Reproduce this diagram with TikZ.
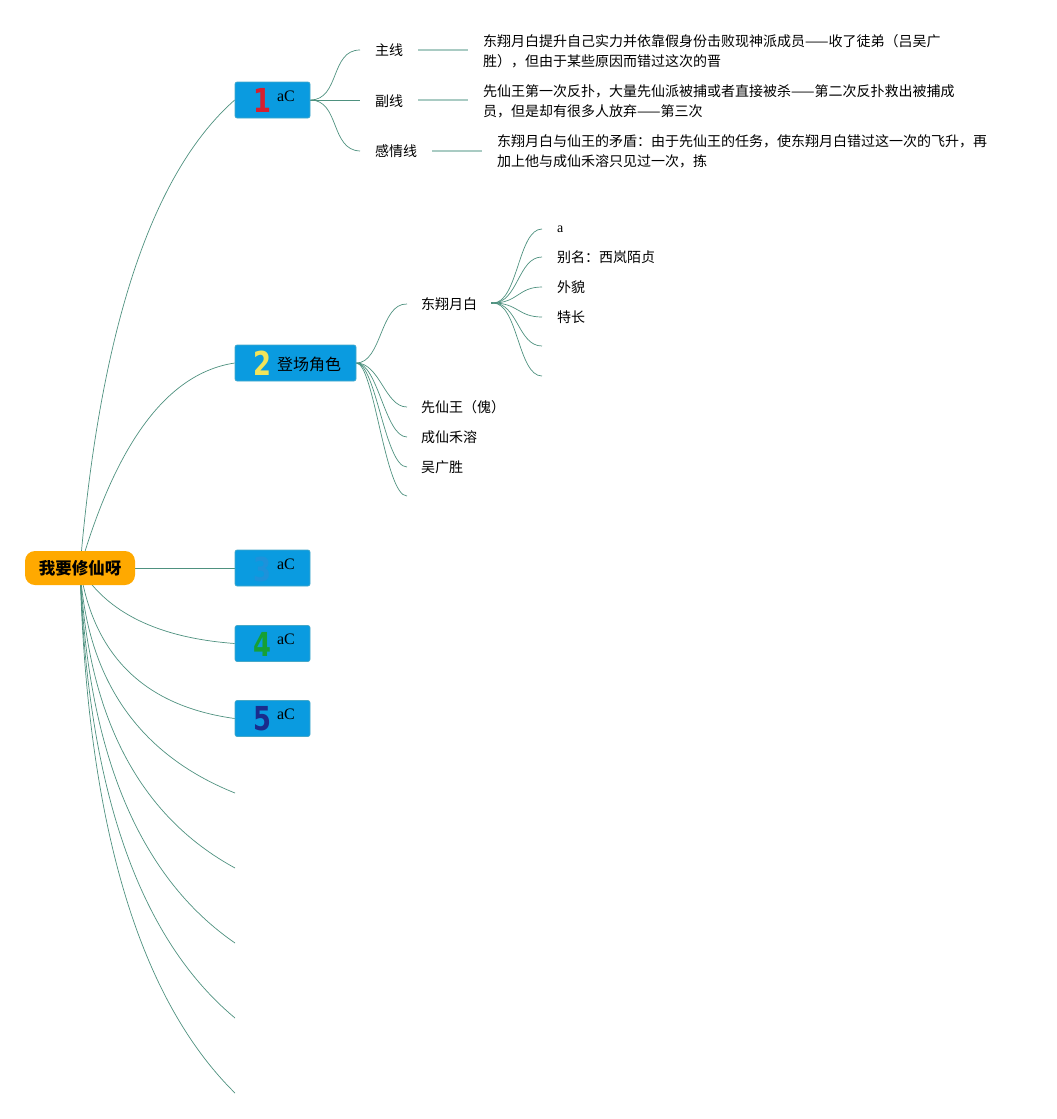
\documentclass[tikz,border=0pt]{standalone}
\usepackage{fontspec}
\setmainfont{Liberation Serif}
\newfontfamily\cjk{Noto Sans CJK SC}
\newfontfamily\numfont{DejaVu Sans}
\usetikzlibrary{calc,backgrounds}
\definecolor{linkc}{HTML}{4E917F}
\definecolor{lightlink}{HTML}{A9CBC3}
\definecolor{boxblue}{HTML}{0A9BE0}
\definecolor{boxedge}{HTML}{45A8C8}
\definecolor{rootor}{HTML}{FFA900}
\definecolor{numred}{HTML}{D61F2E}
\definecolor{numyel}{HTML}{F2E45A}
\definecolor{numhid}{HTML}{1E92DA}
\definecolor{numgrn}{HTML}{16A035}
\definecolor{numdk}{HTML}{1A2C8C}
\begin{document}
\begin{tikzpicture}[x=1pt,y=-1pt,
  link/.style={draw=linkc, line width=0.7pt},
  flat/.style={draw=lightlink, line width=1.4pt},
  bluebox/.style={draw=boxedge, line width=0.6pt, fill=boxblue, rounded corners=2pt, minimum height=36pt, inner sep=0pt},
  rootbox/.style={fill=rootor, rounded corners=10pt, minimum width=110pt, minimum height=34pt, inner sep=0pt, font=\cjk\bfseries\fontsize{16.5}{18}\selectfont},
  numtxt/.style={inner sep=0pt, xscale=0.78, font=\numfont\bfseries\fontsize{33}{33}\selectfont},
  actxt/.style={inner sep=0pt, font=\fontsize{16}{18}\selectfont},
  lab/.style={inner xsep=15pt, inner ysep=0pt, anchor=west, font=\cjk\fontsize{14}{16}\selectfont},
  lab2/.style={inner xsep=14pt, inner ysep=0pt, anchor=west, font=\cjk\fontsize{14}{16}\selectfont},
  para/.style={inner xsep=15pt, inner ysep=0pt, anchor=west, align=left, font=\cjk\fontsize{14}{20}\selectfont}
]
\useasboundingbox (0,0) rectangle (1057,1119);

% root
\node[rootbox] (root) at (80,568) {我要修仙呀};

% main boxes
\node[bluebox, minimum width=75pt] (b1) at (272.5,100) {};
\node[numtxt, text=numred] (n1) at (262,100) {1};
\node[actxt] (a1) at (286,96) {aC};

\node[bluebox, minimum width=121pt] (b2) at (295.5,363) {};
\node[numtxt, text=numyel] (n2) at (262,363) {2};
\node[inner sep=0pt, font=\cjk\fontsize{16}{18}\selectfont] (t2) at (309,364) {登场角色};

\node[bluebox, minimum width=75pt] (b3) at (272.5,568) {};
\node[numtxt, text=numhid] (n3) at (262,569) {3};
\node[actxt] (a3) at (286,564) {aC};

\node[bluebox, minimum width=75pt] (b4) at (272.5,643.5) {};
\node[numtxt, text=numgrn] (n4) at (262,644) {4};
\node[actxt] (a4) at (286,639) {aC};

\node[bluebox, minimum width=75pt] (b5) at (272.5,718.5) {};
\node[numtxt, text=numdk] (n5) at (262,719) {5};
\node[actxt] (a5) at (286,714) {aC};

\coordinate (e6) at (235,793);
\coordinate (e7) at (235,868);
\coordinate (e8) at (235,943);
\coordinate (e9) at (235,1018);
\coordinate (e10) at (235,1093);

% box 1 children
\node[lab] (zx) at (360,50) {主线};
\node[lab] (fx) at (360,101) {副线};
\node[lab] (gx) at (360,151) {感情线};
\node[para] (zt) at (468,51) {东翔月白提升自己实力并依靠假身份击败现神派成员——收了徒弟（吕吴广\\胜），但由于某些原因而错过这次的晋};
\node[para] (ft) at (468,101) {先仙王第一次反扑，大量先仙派被捕或者直接被杀——第二次反扑救出被捕成\\员，但是却有很多人放弃——第三次};
\node[para] (gt) at (482,151) {东翔月白与仙王的矛盾：由于先仙王的任务，使东翔月白错过这一次的飞升，再\\加上他与成仙禾溶只见过一次，拣};

% box 2 children
\node[lab2] (dx) at (407,304) {东翔月白};
\node[lab2] (xw) at (407,407) {先仙王（傀）};
\node[lab2] (cx) at (407,437) {成仙禾溶};
\node[lab2] (wg) at (407,467) {吴广胜};
\coordinate (c2e) at (407,496);

% sub children
\node[lab, font=\fontsize{14}{16}\selectfont] (sa) at (542,229) {a};
\node[lab] (sb) at (542,257) {别名：西岚陌贞};
\node[lab] (sc) at (542,287) {外貌};
\node[lab] (sd) at (542,317) {特长};
\coordinate (se) at (542,346);
\coordinate (sf) at (542,376);

\begin{scope}[on background layer]
% root to main boxes (quadratic-like)
\draw[link] (root.center) .. controls ($(root.center)!2/3!(110,210)$) and ($(b1.west)!2/3!(110,210)$) .. (b1.west);
\draw[link] (root.center) .. controls ($(root.center)!2/3!(135,378)$) and ($(b2.west)!2/3!(135,378)$) .. (b2.west);
\draw[link] (root.east) -- (b3.west);
\draw[link] (root.center) .. controls ($(root.center)!2/3!(120,635)$) and ($(b4.west)!2/3!(120,635)$) .. (b4.west);
\draw[link] (root.center) .. controls ($(root.center)!2/3!(100,700)$) and ($(b5.west)!2/3!(100,700)$) .. (b5.west);
\draw[link] (root.center) .. controls ($(root.center)!2/3!(90,735)$) and ($(e6)!2/3!(90,735)$) .. (e6);
\draw[link] (root.center) .. controls ($(root.center)!2/3!(90,789)$) and ($(e7)!2/3!(90,789)$) .. (e7);
\draw[link] (root.center) .. controls ($(root.center)!2/3!(90,843)$) and ($(e8)!2/3!(90,843)$) .. (e8);
\draw[link] (root.center) .. controls ($(root.center)!2/3!(90,897)$) and ($(e9)!2/3!(90,897)$) .. (e9);
\draw[link] (root.center) .. controls ($(root.center)!2/3!(90,950)$) and ($(e10)!2/3!(90,950)$) .. (e10);

% box 1 branches
\draw[link] (b1.east) .. controls (340,100) and (330,50) .. (zx.west);
\draw[link] (b1.east) -- (fx.west |- b1.east);
\draw[link] (b1.east) .. controls (340,100) and (330,150) .. (gx.west);
\draw[flat] (zx.east) -- (zt.west |- zx.east);
\draw[flat] (fx.east |- b1.east) -- (ft.west |- b1.east);
\draw[flat] (gx.east) -- (gt.west |- gx.east);

% box 2 branches
\draw[link] (b2.east) .. controls (382,363) and (380,303) .. (dx.west);
\draw[link] (b2.east) .. controls (380,363) and (385,407) .. (xw.west);
\draw[link] (b2.east) .. controls (378,363) and (385,437) .. (cx.west);
\draw[link] (b2.east) .. controls (376,363) and (385,467) .. (wg.west);
\draw[link] (b2.east) .. controls (374,363) and (385,496) .. (c2e);

% sub branches
\coordinate (dxo) at (493,303);
\draw[link, line width=1.6pt] (dx.east |- dxo) -- (dxo);
\draw[link] (dxo) .. controls (518,303) and (518,229) .. (sa.west);
\draw[link] (dxo) .. controls (518,303) and (518,257) .. (sb.west);
\draw[link] (dxo) .. controls (518,303) and (518,287) .. (sc.west);
\draw[link] (dxo) .. controls (518,303) and (518,317) .. (sd.west);
\draw[link] (dxo) .. controls (518,303) and (518,346) .. (se);
\draw[link] (dxo) .. controls (518,303) and (518,376) .. (sf);
\end{scope}
\end{tikzpicture}
\end{document}
